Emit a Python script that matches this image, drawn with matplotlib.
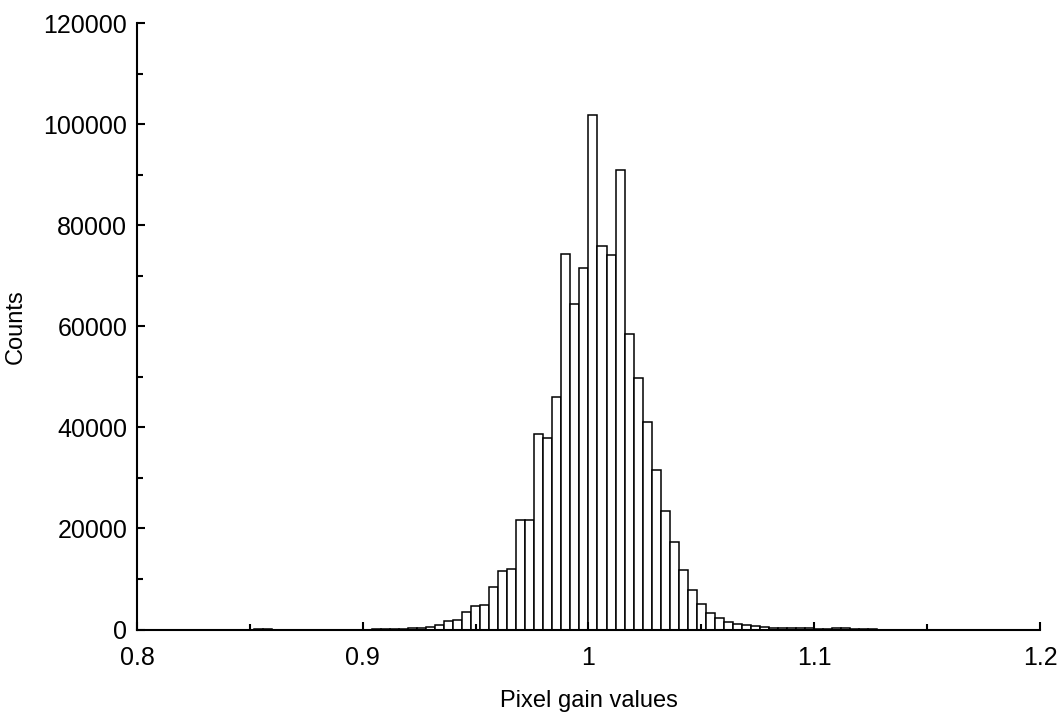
import numpy as np
import matplotlib
matplotlib.use("Agg")
import matplotlib.pyplot as plt
from matplotlib.ticker import MultipleLocator, FuncFormatter

# histogram of pixel gains, 100 bins of width 0.004 between 0.8 and 1.2
bin_edges = np.linspace(0.8, 1.2, 101)
counts = [
    0, 0, 0, 0, 0, 0, 0, 0, 0, 0,
    0, 0, 0, 100, 100, 0, 0, 0, 0, 0,
    0, 0, 0, 0, 0, 0, 30, 60, 100, 150,
    200, 300, 550, 950, 1600, 1800, 3400, 4750, 4900, 8400,
    11600, 11900, 21700, 21700, 38700, 37900, 46000, 74300, 64400, 71600,
    101800, 75900, 74200, 90900, 58500, 49800, 41000, 31600, 23500, 17300,
    11800, 7800, 5100, 3200, 2200, 1400, 1050, 800, 600, 450,
    380, 300, 250, 300, 200, 150, 100, 250, 200, 80,
    50, 30, 0, 0, 0, 0, 0, 0, 0, 0,
    0, 0, 0, 0, 0, 0, 0, 0, 0, 0,
]

x_label = "Pixel gain values"
y_label = "Counts"

plt.rcParams['font.family'] = ['Liberation Sans', 'DejaVu Sans']

fig = plt.figure(figsize=(10.6, 7.13), dpi=100)
ax = fig.add_axes([0.1292, 0.1171, 0.8519, 0.8506])

ax.bar(bin_edges[:-1], counts, width=np.diff(bin_edges), align='edge',
       facecolor='white', edgecolor='black', linewidth=1.1)

ax.set_xlim(0.8, 1.2)
ax.set_ylim(0, 120000)

# axis look: only left/bottom spines, inward ticks
for side in ['top', 'right']:
    ax.spines[side].set_visible(False)
for side in ['left', 'bottom']:
    ax.spines[side].set_linewidth(1.5)
    ax.spines[side].set_zorder(5)

ax.xaxis.set_major_locator(MultipleLocator(0.1))
ax.xaxis.set_minor_locator(MultipleLocator(0.05))
ax.yaxis.set_major_locator(MultipleLocator(20000))
ax.yaxis.set_minor_locator(MultipleLocator(10000))
ax.xaxis.set_major_formatter(FuncFormatter(lambda v, p: f"{v:g}"))
ax.yaxis.set_major_formatter(FuncFormatter(lambda v, p: f"{v:.0f}"))

ax.tick_params(which='major', direction='in', length=6, width=1.5,
               labelsize=18)
ax.tick_params(which='minor', direction='in', length=4, width=1.5)
ax.tick_params(axis='x', which='major', pad=12)
ax.tick_params(axis='y', which='major', pad=7)

ax.set_xlabel(x_label, fontsize=17, labelpad=14)
ax.set_ylabel(y_label, fontsize=17, labelpad=12)

fig.savefig("out.png", dpi=100)
